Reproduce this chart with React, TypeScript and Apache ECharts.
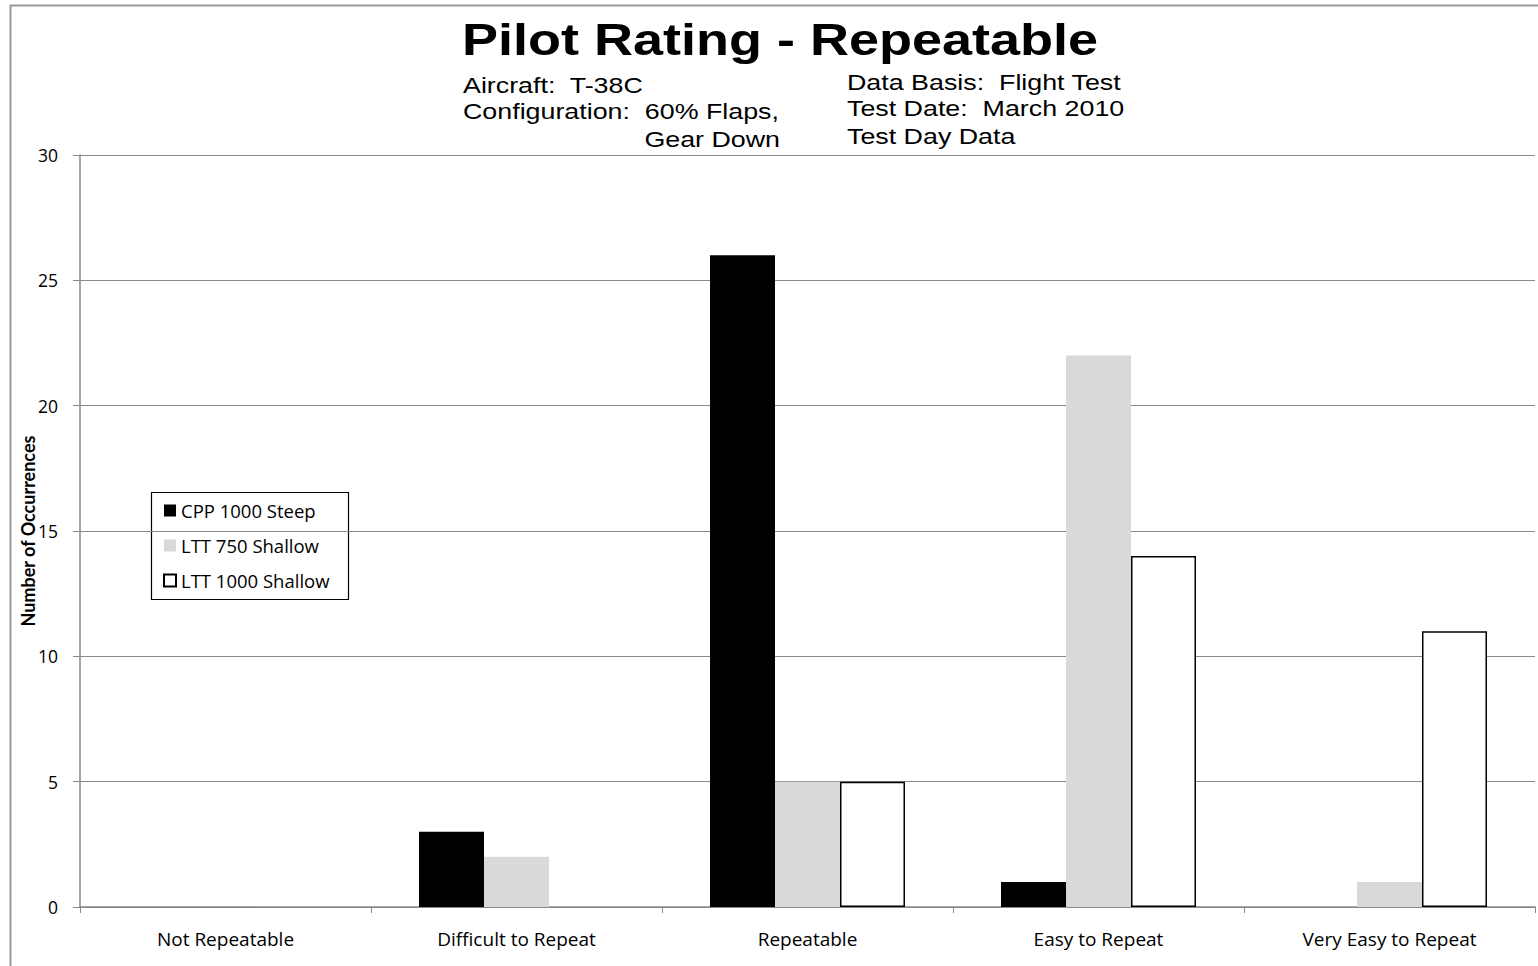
import React, { useEffect, useRef } from "react";
import * as echarts from "echarts";

const categories = ["Not Repeatable", "Difficult to Repeat", "Repeatable", "Easy to Repeat", "Very Easy to Repeat"];
const cpp1000Steep = [0, 3, 26, 1, 0];
const ltt750Shallow = [0, 2, 5, 22, 1];
const ltt1000Shallow = [0, 0, 5, 14, 11];
const seriesNames = ["CPP 1000 Steep", "LTT 750 Shallow", "LTT 1000 Shallow"];

const labelFont = "'Open Sans', Lato, sans-serif";
const arial = "'Liberation Sans', Arial, sans-serif";

const hideZero = (arr: number[]) => arr.map((v) => (v === 0 ? null : v));

export default function App() {
  const ref = useRef<HTMLDivElement>(null);
  useEffect(() => {
    if (!ref.current) return;
    const chart = echarts.init(ref.current, undefined, { renderer: "svg" });
    const subStyle = (text: string, align: string = "left") => ({
      text,
      font: `22px ${arial}`,
      fill: "#000",
      textAlign: align,
      textVerticalAlign: "middle",
    });
    chart.setOption({
      animation: false,
      backgroundColor: "#fff",
      grid: { left: 80, right: 3, top: 155, bottom: 59, containLabel: false },
      legend: {
        left: 163,
        top: 499,
        padding: 0,
        orient: "vertical",
        itemWidth: 12,
        itemHeight: 12,
        itemGap: 12,
        icon: "rect",
        textStyle: { fontFamily: labelFont, fontSize: 18.5, color: "#000", lineHeight: 23 },
        data: seriesNames,
      },
      xAxis: {
        type: "category",
        data: categories,
        axisLine: { lineStyle: { color: "#888", width: 1.5 } },
        axisTick: { show: true, alignWithLabel: false, length: 6, lineStyle: { color: "#888" } },
        axisLabel: { fontFamily: labelFont, fontSize: 19, color: "#000", margin: 22 },
      },
      yAxis: {
        type: "value",
        min: 0,
        max: 30,
        interval: 5,
        name: "Number of Occurrences",
        nameLocation: "middle",
        nameGap: 43,
        nameMoveOverlap: false,
        nameTextStyle: { fontFamily: "Lato, sans-serif", fontSize: 18, fontWeight: "bold", color: "#000" },
        axisLine: { show: true, lineStyle: { color: "#888", width: 1.5 } },
        axisTick: { show: true, length: 7, lineStyle: { color: "#888" } },
        axisLabel: { fontFamily: labelFont, fontSize: 17.5, color: "#000", margin: 22 },
        splitLine: { lineStyle: { color: "#888", width: 1.2 } },
      },
      series: [
        {
          name: seriesNames[0],
          type: "bar",
          data: hideZero(cpp1000Steep),
          barGap: "0%",
          barCategoryGap: "33%",
          itemStyle: { color: "#000" },
        },
        {
          name: seriesNames[1],
          type: "bar",
          data: hideZero(ltt750Shallow),
          barGap: "0%",
          barCategoryGap: "33%",
          itemStyle: { color: "#d9d9d9" },
        },
        {
          name: seriesNames[2],
          type: "bar",
          data: hideZero(ltt1000Shallow),
          barGap: "0%",
          barCategoryGap: "33%",
          itemStyle: { color: "#fff", borderColor: "#000", borderWidth: 1.5 },
        },
      ],
      graphic: [
        {
          type: "rect",
          shape: { x: 10.5, y: 5.5, width: 1600, height: 1100 },
          style: { fill: "none", stroke: "#999", lineWidth: 2 },
          silent: true,
          z: -1,
        },
        {
          type: "rect",
          shape: { x: 151.5, y: 492.5, width: 197, height: 107 },
          style: { fill: "none", stroke: "#000", lineWidth: 1.2 },
          silent: true,
        },
        {
          type: "text",
          x: 780,
          y: 40,
          scaleX: 1.2,
          style: {
            text: "Pilot Rating - Repeatable",
            font: `bold 45px ${arial}`,
            fill: "#000",
            textAlign: "center",
            textVerticalAlign: "middle",
          },
        },
        { type: "text", x: 463, y: 85, scaleX: 1.22, style: subStyle("Aircraft:  T-38C") },
        { type: "text", x: 463, y: 111, scaleX: 1.22, style: subStyle("Configuration:  60% Flaps,") },
        { type: "text", x: 780, y: 139, scaleX: 1.22, style: subStyle("Gear Down", "right") },
        { type: "text", x: 847, y: 82, scaleX: 1.22, style: subStyle("Data Basis:  Flight Test") },
        { type: "text", x: 847, y: 108, scaleX: 1.22, style: subStyle("Test Date:  March 2010") },
        { type: "text", x: 847, y: 136, scaleX: 1.22, style: subStyle("Test Day Data") },
      ],
    });
    return () => chart.dispose();
  }, []);
  return (
    <div
      ref={ref}
      style={{ position: "fixed", left: 0, top: 0, width: 1538, height: 966 }}
    />
  );
}
